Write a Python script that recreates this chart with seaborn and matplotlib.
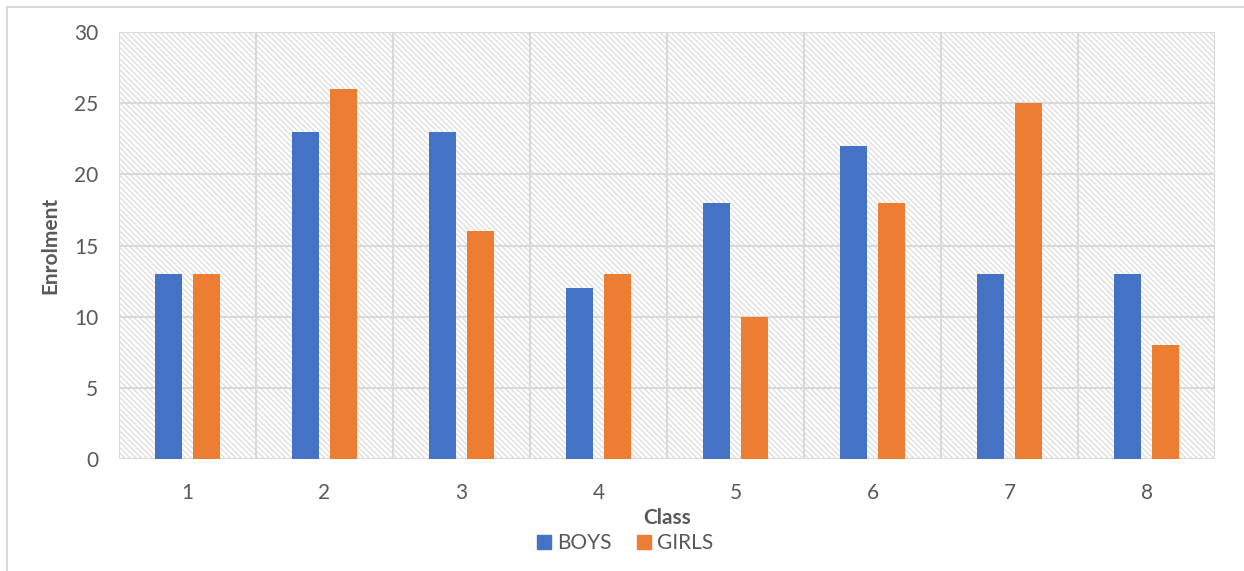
import matplotlib
matplotlib.use('Agg')
import matplotlib.pyplot as plt
import seaborn as sns
import pandas as pd
from matplotlib.patches import Rectangle
from matplotlib.lines import Line2D

classes = ['1', '2', '3', '4', '5', '6', '7', '8']
boys = [13, 23, 23, 12, 18, 22, 13, 13]
girls = [13, 26, 16, 13, 10, 18, 25, 8]
series_names = ['BOYS', 'GIRLS']
colors = ['#4472C4', '#ED7D31']
y_ticks = [0, 5, 10, 15, 20, 25, 30]

df = pd.DataFrame({
    'Class': classes * 2,
    'Enrolment': boys + girls,
    'Series': [series_names[0]] * len(classes) + [series_names[1]] * len(classes),
})

sns.set_style('white')
plt.rcParams['font.family'] = ['Lato', 'DejaVu Sans']
plt.rcParams['hatch.linewidth'] = 0.9

grid_col = '#d9d9d9'
text_col = '#595959'
fs = 15

fig = plt.figure(figsize=(12.44, 5.71), dpi=100)
ax = fig.add_axes([119 / 1244, 1 - 459 / 571, 1096 / 1244, 427 / 571])

# hatched background of the plot area
bg = Rectangle((0, 0), 1, 1, transform=ax.transAxes, facecolor='white',
               edgecolor='#dcdcdc', hatch='\\\\\\\\\\\\', lw=0, zorder=0)
ax.add_patch(bg)

sns.barplot(data=df, x='Class', y='Enrolment', hue='Series', order=classes,
            hue_order=series_names, palette=colors, width=0.555, gap=0.31,
            saturation=1, linewidth=0, ax=ax, zorder=3)

ax.set_ylim(0, 30)
ax.set_xlim(-0.5, len(classes) - 0.5)
ax.set_yticks(y_ticks)
for y in y_ticks:
    ax.axhline(y, color=grid_col, lw=1.5, zorder=1)
for i in range(len(classes) + 1):
    ax.axvline(i - 0.5, color=grid_col, lw=1.5, zorder=1)

for s in ax.spines.values():
    s.set_visible(False)

ax.tick_params(axis='both', length=0, labelsize=fs, labelcolor=text_col)
ax.tick_params(axis='x', pad=17)
ax.tick_params(axis='y', pad=15)
ax.set_xlabel('Class', fontsize=fs, fontweight='bold', color=text_col, labelpad=4)
ax.set_ylabel('Enrolment', fontsize=fs, fontweight='bold', color=text_col, labelpad=10)

handles = [Rectangle((0, 0), 1, 1, color=c) for c in colors]
ax.legend(handles, series_names, loc='center', bbox_to_anchor=(0.462, -0.197),
          ncol=2, frameon=False, fontsize=fs, labelcolor=text_col,
          handlelength=0.65, handleheight=0.65, handletextpad=0.3,
          columnspacing=1.25)

# outer chart border (left and top)
fig.add_artist(Line2D([7 / 1244, 7 / 1244], [0, 1 - 7 / 571], color=grid_col, lw=1.5))
fig.add_artist(Line2D([7 / 1244, 1], [1 - 7 / 571, 1 - 7 / 571], color=grid_col, lw=1.5))

fig.savefig('out.png', dpi=100)
